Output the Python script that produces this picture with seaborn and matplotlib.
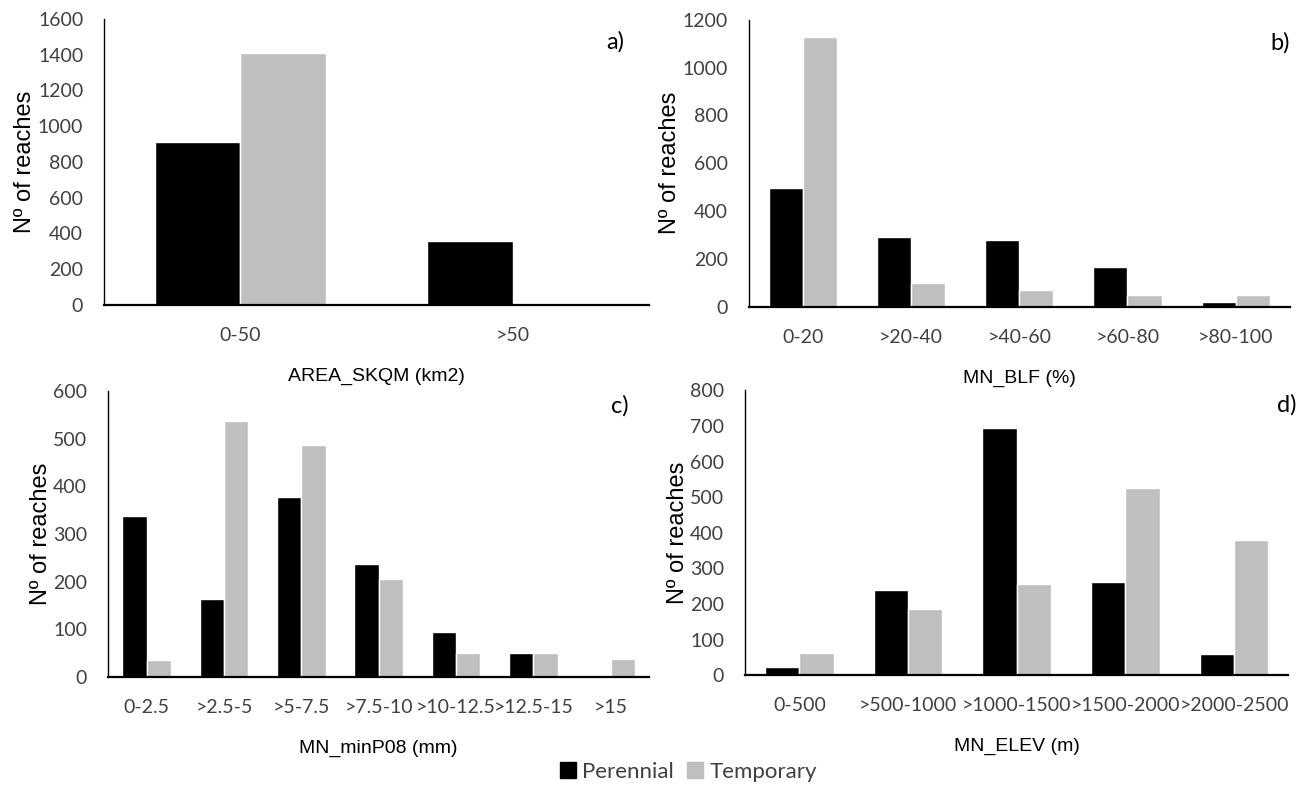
import matplotlib
matplotlib.use("Agg")
import matplotlib.pyplot as plt
import matplotlib.patches as mpatches
import seaborn as sns
import pandas as pd

# ---- data ----
series_names = ["Perennial", "Temporary"]

a_cats = ["0-50", ">50"]
a_per = [912, 358]
a_tmp = [1410, 0]

b_cats = ["0-20", ">20-40", ">40-60", ">60-80", ">80-100"]
b_per = [497, 293, 280, 167, 20]
b_tmp = [1129, 100, 71, 50, 50]

c_cats = ["0-2.5", ">2.5-5", ">5-7.5", ">7.5-10", ">10-12.5", ">12.5-15", ">15"]
c_per = [337, 164, 378, 237, 95, 50, 3]
c_tmp = [36, 538, 487, 206, 50, 50, 38]

d_cats = ["0-500", ">500-1000", ">1000-1500", ">1500-2000", ">2000-2500"]
d_per = [22, 239, 694, 261, 59]
d_tmp = [63, 187, 256, 525, 381]

xlabels = ["AREA_SKQM (km2)", "MN_BLF (%)", "MN_minP08 (mm)", "MN_ELEV (m)"]
panel_tags = ["a)", "b)", "c)", "d)"]
ylims = [(0, 1600, 200), (0, 1200, 200), (0, 600, 100), (0, 800, 100)]

colors = {"Perennial": "#000000", "Temporary": "#bfbfbf"}

sns.set_theme(style="white")
plt.rcParams["font.family"] = ["Lato", "DejaVu Sans"]

fig = plt.figure(figsize=(13.04, 7.87), dpi=100)
positions = [
    [0.0798, 0.6125, 0.4182, 0.3635],
    [0.5744, 0.610, 0.4146, 0.365],
    [0.0828, 0.140, 0.4152, 0.363],
    [0.5713, 0.142, 0.4167, 0.362],
]
tag_pos = [(0.921, 0.92), (0.965, 0.92), (0.93, 0.95), (0.98, 0.95)]

panels = [(a_cats, a_per, a_tmp), (b_cats, b_per, b_tmp),
          (c_cats, c_per, c_tmp), (d_cats, d_per, d_tmp)]

for i, (cats, per, tmp) in enumerate(panels):
    ax = fig.add_axes(positions[i])
    df = pd.DataFrame({
        "cat": cats * 2,
        "val": per + tmp,
        "type": [series_names[0]] * len(cats) + [series_names[1]] * len(cats),
    })
    sns.barplot(data=df, x="cat", y="val", hue="type", order=cats,
                hue_order=series_names, palette=colors, width=0.63,
                saturation=1, ax=ax, legend=False)
    lo, hi, st = ylims[i]
    ax.set_ylim(lo, hi)
    ax.set_yticks(range(lo, hi + 1, st))
    ax.set_xlim(-0.5, len(cats) - 0.5)
    for s in ["top", "right"]:
        ax.spines[s].set_visible(False)
    ax.spines["left"].set_color("#000000")
    ax.spines["left"].set_linewidth(1.0)
    ax.spines["bottom"].set_color("#000000")
    ax.spines["bottom"].set_linewidth(1.6)
    ax.tick_params(axis="both", length=0, labelsize=14, colors="#404040")
    ax.tick_params(axis="y", pad=15)
    ax.tick_params(axis="x", pad=16)
    ax.set_xlabel(xlabels[i], fontsize=14, family=["Liberation Sans", "DejaVu Sans"],
                  color="#000000", labelpad=17)
    ax.set_ylabel("Nº of reaches", fontsize=17, family=["Liberation Sans", "DejaVu Sans"],
                  color="#000000", labelpad=1)
    ax.text(tag_pos[i][0], tag_pos[i][1], panel_tags[i], transform=ax.transAxes,
            fontsize=17, ha="left", va="center", color="#000000")

handles = [mpatches.Patch(color=colors[n], label=n) for n in series_names]
fig.legend(handles=handles, loc="center", bbox_to_anchor=(0.528, 0.019), ncol=2,
           frameon=False, fontsize=16, handlelength=0.7, handleheight=0.7,
           handletextpad=0.3, columnspacing=0.6,
           labelcolor="#404040")

fig.savefig("out.png", dpi=100)
